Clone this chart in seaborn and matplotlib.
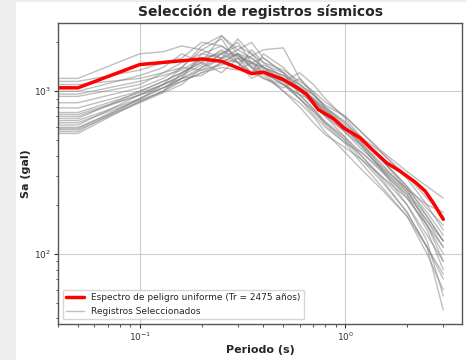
import numpy as np
import pandas as pd
import matplotlib
matplotlib.use("Agg")
import matplotlib.pyplot as plt
import seaborn as sns
from matplotlib.patches import Rectangle
from matplotlib.lines import Line2D

# Periods (s) for the uniform hazard spectrum
uhs_period = [0.04, 0.05, 0.1, 0.2, 0.25, 0.35, 0.4, 0.5, 0.6, 0.65, 0.74, 0.88, 0.98,
              1.18, 1.35, 1.59, 1.85, 2.19, 2.45, 2.68, 3.0]
uhs_sa = [1050, 1050, 1460, 1580, 1530, 1285, 1310, 1180, 1030, 955, 771, 676, 596,
          517, 439, 363, 322, 276, 243, 206, 163]

# Periods (s) for the selected records
rec_period = [0.04, 0.05, 0.1, 0.13, 0.16, 0.2, 0.25, 0.3, 0.35, 0.4, 0.5, 0.6, 0.7,
              0.8, 1.0, 1.2, 1.5, 2.0, 2.5, 3.0]
rec01 = [1200, 1200, 1700, 1750, 1900, 1800, 1600, 1700, 1500, 1400, 1250, 1100, 950, 800, 620, 500, 380, 260, 190, 150]
rec02 = [1150, 1150, 1350, 1500, 1600, 2000, 1900, 1650, 1500, 1600, 1300, 1050, 850, 700, 560, 460, 330, 220, 150, 110]
rec03 = [1000, 1000, 1250, 1400, 1700, 1500, 2200, 1800, 1600, 1400, 1200, 1000, 900, 780, 640, 520, 420, 300, 220, 170]
rec04 = [930, 930, 1100, 1300, 1500, 1700, 1600, 2100, 1700, 1500, 1350, 1150, 1000, 860, 700, 560, 430, 320, 260, 220]
rec05 = [850, 850, 1050, 1200, 1400, 1900, 2200, 1700, 1400, 1300, 1100, 950, 780, 640, 500, 400, 300, 200, 130, 90]
rec06 = [790, 790, 1000, 1150, 1300, 1500, 1800, 1500, 1300, 1700, 1400, 1100, 900, 760, 600, 480, 360, 240, 160, 110]
rec07 = [740, 740, 980, 1100, 1250, 1600, 1500, 1700, 1400, 1250, 1000, 800, 640, 540, 450, 380, 300, 220, 150, 100]
rec08 = [700, 700, 950, 1050, 1200, 1400, 1700, 1900, 1700, 1400, 1150, 900, 760, 620, 480, 420, 330, 240, 170, 120]
rec09 = [660, 660, 900, 1050, 1150, 1300, 1500, 1400, 1800, 1500, 1200, 1000, 820, 700, 520, 400, 290, 180, 110, 70]
rec10 = [640, 640, 880, 1000, 1200, 1700, 1900, 1600, 1300, 1200, 1050, 1200, 980, 800, 650, 500, 380, 260, 170, 120]
rec11 = [600, 600, 860, 1000, 1300, 1500, 1300, 1600, 1500, 1300, 1100, 900, 720, 600, 480, 360, 260, 170, 100, 60]
rec12 = [580, 580, 850, 980, 1100, 1400, 1600, 1800, 2000, 1600, 1300, 950, 780, 650, 520, 420, 320, 230, 160, 120]
rec13 = [565, 565, 900, 1100, 1400, 1800, 2100, 1500, 1200, 1300, 1000, 850, 700, 560, 420, 330, 250, 170, 110, 75]
rec14 = [550, 550, 870, 1000, 1150, 1300, 1400, 1350, 1500, 1400, 1250, 1050, 900, 720, 560, 440, 340, 250, 200, 180]
rec15 = [1100, 1100, 1200, 1300, 1400, 1350, 1450, 1600, 1400, 1200, 1100, 950, 880, 760, 600, 480, 340, 230, 140, 80]
rec16 = [960, 960, 1150, 1250, 1350, 1600, 1700, 1500, 1650, 1800, 1850, 1200, 950, 780, 600, 460, 330, 200, 120, 55]
rec17 = [720, 720, 950, 1100, 1250, 1450, 1700, 2000, 1500, 1350, 1150, 1000, 880, 740, 580, 470, 350, 250, 180, 130]
rec18 = [620, 620, 950, 1100, 1200, 1350, 1600, 1500, 1300, 1450, 1300, 1100, 950, 820, 700, 560, 420, 290, 200, 140]
rec19 = [680, 680, 1000, 1150, 1300, 1550, 1750, 1650, 1450, 1300, 1150, 1300, 1100, 900, 680, 520, 380, 250, 150, 90]
rec20 = [590, 590, 900, 1050, 1200, 1250, 1500, 1700, 1600, 1400, 1100, 900, 750, 640, 500, 380, 280, 180, 110, 45]
records = [rec01, rec02, rec03, rec04, rec05, rec06, rec07, rec08, rec09, rec10,
           rec11, rec12, rec13, rec14, rec15, rec16, rec17, rec18, rec19, rec20]

rows = []
for i, rec in enumerate(records):
    for t, v in zip(rec_period, rec):
        rows.append({"rec": i, "T": t, "Sa": v})
df_rec = pd.DataFrame(rows)
df_uhs = pd.DataFrame({"T": uhs_period, "Sa": uhs_sa})

sns.set_style("white")
plt.rcParams['font.family'] = ['DejaVu Sans']

fig = plt.figure(figsize=(4.67, 3.6), dpi=100)
fig.patch.set_facecolor("white")
fig.patches.append(Rectangle((0, 0), 16 / 467, 1, transform=fig.transFigure,
                             facecolor="#eeeeee", edgecolor="none", zorder=-10))
fig.patches.append(Rectangle((0, 1 - 2 / 360), 1, 2 / 360, transform=fig.transFigure,
                             facecolor="#eeeeee", edgecolor="none", zorder=-10))
ax = fig.add_axes([58 / 467, 1 - 324 / 360, (462 - 58) / 467, (324 - 23) / 360])

sns.lineplot(data=df_rec, x="T", y="Sa", units="rec", estimator=None, ax=ax,
             color="gray", alpha=0.5, lw=1.0, legend=False)
sns.lineplot(data=df_uhs, x="T", y="Sa", ax=ax, color="red", lw=2.5, legend=False)

ax.set_xscale("log")
ax.set_yscale("log")
ax.set_xlim(0.04, 3.7)
ax.set_ylim(37, 2630)
ax.grid(True, which="major", color="#cccccc", lw=0.8)
for s in ax.spines.values():
    s.set_color("#555555")
    s.set_linewidth(1.0)
ax.tick_params(which="both", direction="out", colors="#333333", labelsize=6.5,
               left=True, bottom=True, pad=2)
ax.tick_params(which="major", length=3, width=0.8)
ax.tick_params(which="minor", length=1.8, width=0.6)

ax.set_title("Selección de registros sísmicos", fontsize=10, fontweight="bold", pad=5)
ax.set_xlabel("Periodo (s)", fontsize=8, fontweight="bold", labelpad=1)
ax.set_ylabel("Sa (gal)", fontsize=8, fontweight="bold", labelpad=2)

handles = [Line2D([], [], color="red", lw=2.5),
           Line2D([], [], color="gray", alpha=0.5, lw=1.0)]
ax.legend(handles, ["Espectro de peligro uniforme (Tr = 2475 años)", "Registros Seleccionados"],
          loc="lower left", fontsize=6.5, frameon=True, framealpha=0.8)

fig.savefig("out.png", dpi=100, facecolor=fig.get_facecolor())
